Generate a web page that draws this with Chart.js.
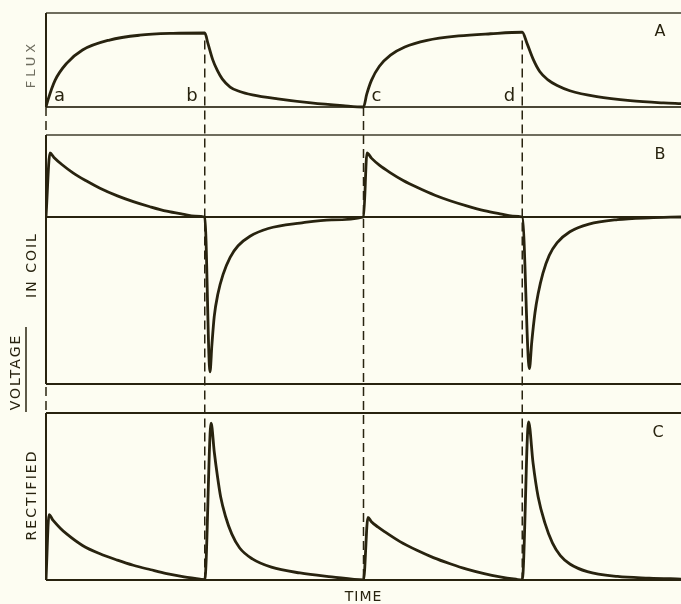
<!DOCTYPE html>
<html>
<head>
<meta charset="utf-8">
<script src="https://cdn.jsdelivr.net/npm/chart.js@4.4.1/dist/chart.umd.min.js"></script>
<style>
  html, body { margin: 0; padding: 0; background: #fdfdf2; }
  #wrap { width: 681px; height: 604px; }
</style>
</head>
<body>
<div id="wrap"><canvas id="pulses" width="681" height="604"></canvas></div>
<script>
// switching instants along the time axis
const markTimes = [0, 1, 2, 3];
const markLabels = ['a', 'b', 'c', 'd'];

// A - flux in the core
const fluxTime = [0, 0.013, 0.057, 0.13, 0.23, 0.40, 0.59, 0.80, 1.0,
  1.02, 1.05, 1.08, 1.11, 1.16, 1.22, 1.3, 1.46, 1.67, 1.87, 2.0,
  2.02, 2.05, 2.1, 2.17, 2.26, 2.4, 2.6, 2.8, 3.0,
  3.03, 3.07, 3.11, 3.16, 3.22, 3.3, 3.47, 3.68, 3.89, 4.0];
const fluxValue = [0, 0.10, 0.36, 0.59, 0.77, 0.905, 0.97, 0.995, 1.0,
  0.86, 0.64, 0.49, 0.38, 0.27, 0.21, 0.165, 0.11, 0.055, 0.018, 0,
  0.17, 0.36, 0.55, 0.70, 0.81, 0.90, 0.96, 0.99, 1.01,
  0.86, 0.64, 0.48, 0.37, 0.29, 0.22, 0.14, 0.085, 0.055, 0.045];

// B - voltage in coil
const coilTime = [0, 0.025, 0.05, 0.10, 0.17, 0.25, 0.34, 0.45, 0.55, 0.655, 0.76, 0.86, 0.94, 1.0,
  1.033, 1.045, 1.06, 1.083, 1.115, 1.16, 1.21, 1.285, 1.4, 1.6, 1.8, 2.0,
  2.022, 2.05, 2.10, 2.17, 2.25, 2.34, 2.45, 2.55, 2.655, 2.76, 2.86, 2.94, 3.0,
  3.045, 3.06, 3.08, 3.1, 3.13, 3.17, 3.22, 3.3, 3.42, 3.6, 3.8, 4.0];
const coilValue = [0, 1.0, 0.93, 0.82, 0.69, 0.57, 0.45, 0.33, 0.24, 0.16, 0.09, 0.045, 0.015, 0,
  -2.42, -2.0, -1.55, -1.2, -0.9, -0.63, -0.45, -0.3, -0.18, -0.095, -0.045, 0,
  1.0, 0.92, 0.81, 0.69, 0.57, 0.46, 0.34, 0.25, 0.17, 0.10, 0.05, 0.015, 0,
  -2.37, -1.95, -1.5, -1.2, -0.88, -0.6, -0.4, -0.23, -0.11, -0.04, -0.012, 0];

// C - rectified voltage
const rectTime = [0, 0.019, 0.045, 0.09, 0.13, 0.23, 0.34, 0.45, 0.55, 0.66, 0.76, 0.87, 0.97, 1.0,
  1.04, 1.06, 1.08, 1.1, 1.13, 1.17, 1.22, 1.3, 1.42, 1.6, 1.8, 2.0,
  2.028, 2.05, 2.09, 2.13, 2.23, 2.34, 2.44, 2.55, 2.65, 2.76, 2.86, 2.96, 3.0,
  3.04, 3.068, 3.1, 3.143, 3.19, 3.24, 3.3, 3.41, 3.6, 3.8, 4.0];
const rectValue = [0, 1.02, 0.93, 0.81, 0.72, 0.54, 0.41, 0.31, 0.23, 0.16, 0.10, 0.05, 0.015, 0,
  2.45, 2.0, 1.62, 1.3, 1.0, 0.72, 0.5, 0.33, 0.2, 0.11, 0.05, 0,
  0.98, 0.91, 0.83, 0.76, 0.60, 0.46, 0.35, 0.25, 0.17, 0.10, 0.05, 0.012, 0,
  2.47, 1.83, 1.30, 0.89, 0.58, 0.38, 0.25, 0.13, 0.055, 0.03, 0.015];

const INK = '#28230f';
const FONT = '"DejaVu Sans", "Liberation Sans", sans-serif';

// pixel layout of the three strips
const layout = {
  top: 13, bottom: 580, left: 46, right: 0,
  A: { top: 13, zero: 107, unit: 74 },
  B: { top: 135, zero: 217, bottom: 384, unit: 64 },
  C: { top: 413, zero: 580, unit: 64 }
};

// every y axis spans the full chart area; min/max put each strip's zero in place
function stripAxis(p) {
  return {
    type: 'linear', display: false,
    min: -(layout.bottom - p.zero) / p.unit,
    max: (p.zero - layout.top) / p.unit
  };
}

const toPoints = (xs, ys) => xs.map((x, i) => ({ x, y: ys[i] }));

const curve = (data, axis) => ({
  data, yAxisID: axis,
  borderColor: INK, borderWidth: 2.8,
  pointRadius: 0, fill: false,
  cubicInterpolationMode: 'monotone'
});

function rotatedText(ctx, text, x, y, size, color, spacing) {
  ctx.save();
  ctx.translate(x, y);
  ctx.rotate(-Math.PI / 2);
  ctx.font = `${size}px ${FONT}`;
  ctx.letterSpacing = spacing + 'px';
  ctx.fillStyle = color;
  ctx.textAlign = 'center';
  ctx.textBaseline = 'middle';
  ctx.fillText(text, 0, 0);
  ctx.restore();
}

const hline = (ctx, y, x0, x1, color, w) => {
  ctx.strokeStyle = color; ctx.lineWidth = w;
  ctx.beginPath(); ctx.moveTo(x0, y); ctx.lineTo(x1, y); ctx.stroke();
};
const vline = (ctx, x, y0, y1, color, w) => {
  ctx.strokeStyle = color; ctx.lineWidth = w;
  ctx.beginPath(); ctx.moveTo(x, y0); ctx.lineTo(x, y1); ctx.stroke();
};

const stripFrames = {
  id: 'stripFrames',
  beforeDatasetsDraw(chart) {
    const { ctx, chartArea: ca, scales } = chart;
    const L = ca.left, R = chart.width;
    ctx.save();
    // strip A
    hline(ctx, layout.A.top, L, R, '#6f6d5e', 2);
    hline(ctx, scales.yA.getPixelForValue(0), L, R, '#4a4736', 2);
    vline(ctx, L, layout.A.top, scales.yA.getPixelForValue(0), INK, 2);
    // strip B
    hline(ctx, layout.B.top, L, R, '#6f6d5e', 2);
    hline(ctx, scales.yB.getPixelForValue(0), L, R, INK, 2);
    hline(ctx, layout.B.bottom, L, R, INK, 2);
    vline(ctx, L, layout.B.top, layout.B.bottom, INK, 2);
    // strip C
    hline(ctx, layout.C.top, L, R, INK, 2);
    hline(ctx, scales.yC.getPixelForValue(0), L, R, INK, 2);
    vline(ctx, L, layout.C.top, scales.yC.getPixelForValue(0), INK, 2);
    ctx.restore();
  },
  afterDatasetsDraw(chart) {
    const { ctx, scales } = chart;
    const x = scales.x;
    const yTop = scales.yA.getPixelForValue(0);
    const yEnd = scales.yC.getPixelForValue(0);
    ctx.save();
    // dashed switching lines through all strips
    ctx.setLineDash([9, 5]);
    markTimes.forEach((t, i) => {
      const px = x.getPixelForValue(t);
      const start = i % 2 === 1 ? scales.yA.getPixelForValue(0.9) : yTop;
      vline(ctx, px, start, yEnd, INK, 1.5);
    });
    ctx.setLineDash([]);

    // a b c d beside the flux curve
    ctx.font = `18px ${FONT}`;
    ctx.fillStyle = INK;
    ctx.textBaseline = 'alphabetic';
    markLabels.forEach((s, i) => {
      const px = x.getPixelForValue(markTimes[i]);
      ctx.textAlign = i % 2 === 0 ? 'left' : 'right';
      ctx.fillText(s, px + (i % 2 === 0 ? 8 : -7), yTop - 6);
    });

    // strip letters
    ctx.font = `16px ${FONT}`;
    ctx.textAlign = 'center';
    ctx.textBaseline = 'middle';
    ctx.fillText('A', 660, 32);
    ctx.fillText('B', 660, 155);
    ctx.fillText('C', 658, 433);

    // axis captions
    rotatedText(ctx, 'FLUX', 32, 64, 13, '#6e6d5f', 4);
    rotatedText(ctx, 'IN COIL', 32, 265, 14, INK, 2);
    rotatedText(ctx, 'VOLTAGE', 16, 372, 14, INK, 2);
    vline(ctx, 26, 327, 412, INK, 1.5);
    rotatedText(ctx, 'RECTIFIED', 32, 495, 14, INK, 2);

    ctx.font = `14px ${FONT}`;
    ctx.letterSpacing = '1px';
    ctx.textAlign = 'center';
    ctx.fillText('TIME', x.getPixelForValue(2), 597);
    ctx.restore();
  }
};

new Chart(document.getElementById('pulses'), {
  type: 'line',
  data: {
    datasets: [
      curve(toPoints(fluxTime, fluxValue), 'yA'),
      curve(toPoints(coilTime, coilValue), 'yB'),
      curve(toPoints(rectTime, rectValue), 'yC')
    ]
  },
  options: {
    responsive: false,
    animation: false,
    layout: { padding: { left: layout.left, right: layout.right, top: layout.top, bottom: 604 - layout.bottom } },
    plugins: { legend: { display: false }, tooltip: { enabled: false } },
    scales: {
      x: { type: 'linear', display: false, min: 0, max: 4 },
      yA: stripAxis(layout.A),
      yB: stripAxis(layout.B),
      yC: stripAxis(layout.C)
    }
  },
  plugins: [stripFrames]
});
</script>
</body>
</html>
